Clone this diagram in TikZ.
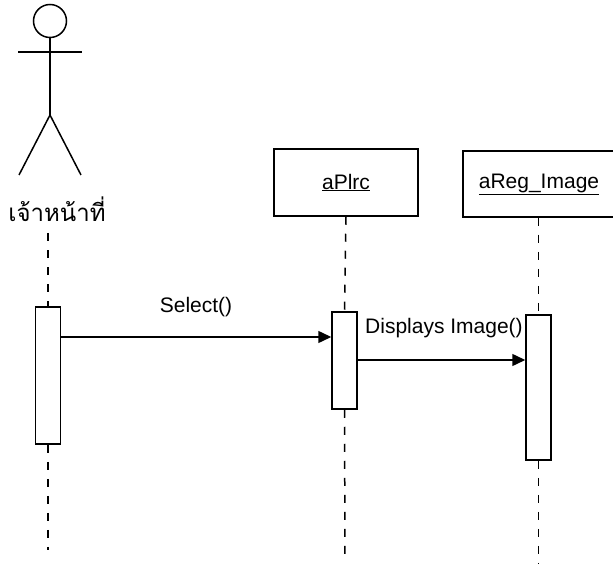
\documentclass[tikz,border=0pt]{standalone}
\usepackage{fontspec}
\setmainfont{Liberation Sans}
\newfontfamily\thaifont[Script=Thai]{Loma}
\usetikzlibrary{arrows.meta}
\begin{document}
\begin{tikzpicture}[x=1pt,y=-1pt,
  line width=1.5pt,
  objbox/.style={draw, rectangle, inner sep=0pt, minimum height=67pt,
     font=\fontsize{21}{25}\selectfont},
  actbox/.style={draw, fill=white, rectangle, inner sep=0pt, minimum width=25pt},
  lifeline/.style={line width=1.5pt, dash pattern=on 8pt off 9pt},
  msg/.style={-{Triangle[length=13pt,width=12pt]}},
  lbl/.style={inner sep=0pt, font=\fontsize{21}{25}\selectfont}]
\useasboundingbox[fill=white] (0,0) rectangle (613,564);
% actor
\node[circle, draw, minimum size=33pt, inner sep=0pt] (head) at (50,21) {};
\coordinate (hip) at (50,115);
\coordinate (armL) at (18,52);
\coordinate (armR) at (82,52);
\coordinate (legL) at (19,175);
\coordinate (legR) at (81,175);
\draw (head.south) -- (hip);
\draw (armL) -- (armR);
\draw (legL) -- (hip) -- (legR);
\node[inner sep=0pt, font=\thaifont\fontsize{24}{28}\selectfont] (actor) at (57,209) {เจ้าหน้าที่};
% objects
\node[objbox, minimum width=144pt] (plrc) at (346,182.5) {\underline{aPlrc}};
\node[objbox, minimum width=152pt, minimum height=66pt] (reg) at (539,184) {\underline{aReg\_Image}};
% activations
\node[actbox, minimum height=137pt] (act1) at (48,375.5) {};
\node[actbox, minimum height=97pt] (act2) at (344.5,360.5) {};
\node[actbox, minimum height=145pt] (act3) at (538.5,387.5) {};
% lifeline ends
\coordinate (l1top) at (48,233);
\coordinate (l1end) at (48,550);
\coordinate (l2end) at (345,556);
\coordinate (l3end) at (538.5,566);
\draw[lifeline] (l1top) -- (act1.north);
\draw[lifeline] (act1.south) -- (l1end);
\draw[lifeline] (plrc.south) -- (act2.north);
\draw[lifeline] (act2.south) -- (l2end);
\draw[lifeline] (reg.south -| act3.north) -- (act3.north);
\draw[lifeline] (act3.south) -- (l3end);
% messages
\coordinate (m1) at (0,337);
\coordinate (m2) at (0,360);
\draw[msg] (act1.east |- m1) -- (act2.west |- m1);
\draw[msg] (act2.east |- m2) -- (act3.west |- m2);
\node[lbl] (sel) at (196,307) {Select()};
\node[lbl] (disp) at (444,328) {Displays Image()};
\end{tikzpicture}
\end{document}
